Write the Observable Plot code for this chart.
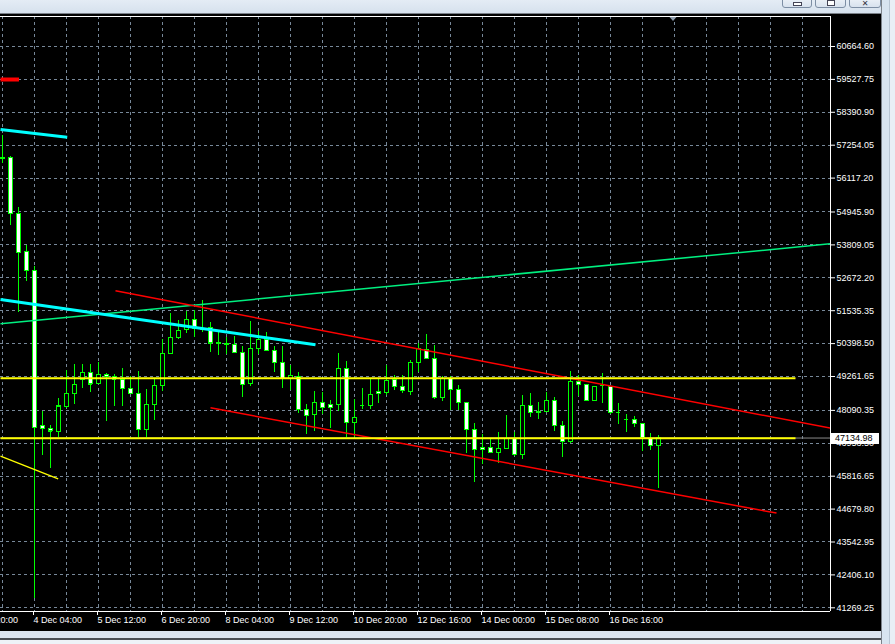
<!DOCTYPE html>
<html><head><meta charset="utf-8">
<script src="https://cdn.jsdelivr.net/npm/d3@7"></script>
<script src="https://cdn.jsdelivr.net/npm/@observablehq/plot@0.6"></script>
<style>
html,body{margin:0;padding:0;background:#000;overflow:hidden;}
#wrap{position:relative;width:895px;height:644px;overflow:hidden;background:#000;}
#chart{position:absolute;left:0;top:0;}
.c{position:absolute;box-sizing:border-box;}
.btn{position:absolute;top:-7px;height:15px;border:1px solid #7d8ea4;border-radius:3px;background:linear-gradient(#f7f9fc,#d8e2ee);box-sizing:border-box;}
</style></head><body>
<div id="wrap"><div id="chart"></div>
<div class="c" style="left:0;top:0;width:895px;height:14px;background:linear-gradient(#e4ecf5,#d6e1ed);border-bottom:1px solid #7a8088;"></div>
<div class="btn" style="left:782px;width:30px;"><div class="c" style="left:10px;top:8px;width:9px;height:4px;border:1px solid #445;background:#fff;"></div></div>
<div class="btn" style="left:815px;width:31px;"><div class="c" style="left:11px;top:6px;width:8px;height:6px;border:1px solid #445;background:#fff;"></div></div>
<div class="btn" style="left:849px;width:32px;font:bold 8px 'DejaVu Sans';color:#334;text-align:center;line-height:20px;">✕</div>
<div class="c" style="left:881px;top:0;width:14px;height:644px;background:linear-gradient(90deg,#7c828a 0,#7c828a 1px,#d8e4f0 1px,#d8e4f0 8px,#b9c6d4 8px,#b9c6d4 9px,#e9eff6 9px);"></div>
<div class="c" style="left:0;top:631px;width:881px;height:13px;background:linear-gradient(#dbe5f0 0,#dbe5f0 7px,#4a4f55 7px,#4a4f55 9px,#eef2f7 9px);"></div>
</div>
<script>
// H4 candles, bar index 0..82 (prices)
const openP = [56812,56819,54884,53571,52914,47558,47455,47337,48201,48650,
49134,49390,48996,49320,49251,49148,48837,48664,47420,48284,
48940,50046,50599,50875,51221,50910,50944,50426,50392,50357,
50081,49010,50219,50530,50150,49735,49182,49251,48111,47938,
48353,48284,48284,49528,47662,48249,48249,48733,48698,49148,
48906,48733,49735,50184,49873,48526,49182,48802,48353,47420,
46798,46798,46625,46763,47109,46556,48249,48042,48042,48422,
47558,47005,49079,48975,48422,48940,48906,48007,47766,47766,
47627,47109,46867];
const highP = [57589,56864,55091,53778,53063,48052,47558,48491,49469,49676,
49676,49676,49735,49355,49320,49528,49251,49434,48802,49182,
50530,51428,51197,51508,51542,51888,51117,50772,50599,50633,
50288,51152,50806,50772,50288,50288,49631,49390,48284,48733,
48698,48422,50046,49770,48457,48837,49148,49182,49631,49286,
49286,49804,50391,50703,50322,49251,49251,48941,48353,47627,
47247,47074,47316,47904,47316,48595,48664,48353,48698,48526,
47696,49434,49286,48975,48906,49355,48906,48318,47938,47869,
47627,47282,47213];
const lowP = [56632,54479,51483,52555,41591,46532,46093,47164,48146,48284,
48837,48719,48996,47717,48235,48235,48664,47164,47164,47741,
48743,50046,50530,50737,50599,50772,50081,49977,50011,50081,
48546,48906,50011,50150,49390,48837,48768,47994,47247,47351,
47938,47455,48042,47143,47143,48111,48111,48318,48595,48768,
48664,48595,49390,49839,48457,48387,48077,48077,46591,45609,
46211,46591,46245,46763,46487,46383,47835,47766,48042,47351,
46453,46936,48560,48422,48422,48318,47938,47593,47316,47489,
46660,46694,45381];
const closeP = [56794,54884,53536,52914,47489,47455,47372,48225,48664,48975,
49390,48996,49320,49251,49158,48837,48664,47420,48284,48940,
50046,50599,50841,51221,50910,50886,50412,50392,50357,50081,
48975,50219,50530,50150,49735,49182,49286,48111,47904,48353,
48180,48180,49528,47662,47835,48249,48630,48664,49113,48906,
48768,49735,50219,49873,48526,49182,48802,48353,47420,46729,
46729,46625,46763,47109,46556,48249,48007,48007,48422,47558,
47005,49079,48975,48422,48906,48940,48007,48007,47766,47627,
47143,46867,47134.98];
const bid = 47134.98;

// price scale labels
const yTicks = [60664.60,59527.75,58390.90,57254.05,56117.20,54945.90,53809.05,52672.20,51535.35,
50398.50,49261.65,48090.35,46953.50,45816.65,44679.80,43542.95,42406.10,41269.25];
// time labels (bar index of tick, label)
const xTickBars = [-4,4,12,20,28,36,44,52,60,68,76];
const xTickLabels = ["2 Dec 20:00","4 Dec 04:00","5 Dec 12:00","6 Dec 20:00","8 Dec 04:00","9 Dec 12:00",
"10 Dec 20:00","12 Dec 16:00","14 Dec 00:00","15 Dec 08:00","16 Dec 16:00"];

// drawn objects: [barIndex, price] endpoints
const cyanUpper = [[-0.25,57796],[8.09,57530]];
const cyanLower = [[-0.25,51922],[39.125,50357]];
const greenLine = [[-0.25,51083],[103.5,53847]];
const redUpper = [[14.125,52223],[103.5,47475]];
const redLower = [[26,48180],[96.75,44542]];
const yellowUpper = [[-0.25,49203],[99.125,49203]];
const yellowLower = [[-0.25,47125],[99.125,47125]];
const yellowThin = [[-0.25,46508],[6.96,45727]];
const redMark = [[-0.25,59524],[2.06,59524]];
const shiftBar = 83.875;

const xDomain = [-0.25, 103.5];
const yDomain = [41141.4, 61701.0];

const bars = openP.map((o, i) => ({i, open: o, high: highP[i], low: lowP[i], close: closeP[i]}));
const vGrid = d3.range(0, 101, 4);
const labelOf = new Map(xTickBars.map((b, i) => [b, xTickLabels[i]]));
const seg = (s) => [{x1: s[0][0], y1: s[0][1], x2: s[1][0], y2: s[1][1]}];
const lk = (s, stroke, w) => Plot.link(seg(s), {x1: "x1", y1: "y1", x2: "x2", y2: "y2", stroke, strokeWidth: w, clip: true});

const plot = Plot.plot({
  width: 895, height: 644,
  marginLeft: 0, marginRight: 65, marginTop: 16, marginBottom: 33,
  style: {background: "transparent", color: "#ffffff", fontFamily: "'Liberation Sans', Arial, sans-serif", fontSize: "9px"},
  x: {type: "linear", domain: xDomain},
  y: {type: "linear", domain: yDomain},
  marks: [
    Plot.ruleY(yTicks, {stroke: "#778899", strokeDasharray: "3,3", shapeRendering: "crispEdges"}),
    Plot.ruleX(vGrid, {stroke: "#778899", strokeDasharray: "3,3", shapeRendering: "crispEdges"}),
    Plot.ruleY([bid], {stroke: "#8a8a8a"}),
    Plot.ruleX(bars, {x: "i", y1: "low", y2: "high", stroke: "#00ff00", shapeRendering: "crispEdges"}),
    Plot.rect(bars, {x1: d => d.i - 0.25, x2: d => d.i + 0.25, y1: "open", y2: "close",
      fill: d => d.close < d.open ? "#ffffff" : "#000000", stroke: "#00ff00", shapeRendering: "crispEdges"}),
    Plot.ruleY(bars, {y: "close", x1: d => d.i - 0.25, x2: d => d.i + 0.25, stroke: "#00ff00", shapeRendering: "crispEdges"}),
    lk(greenLine, "#00f080", 1.5),
    lk(redUpper, "#ff0000", 1.5),
    lk(redLower, "#ff0000", 1.5),
    lk(cyanUpper, "#00ffff", 3),
    lk(cyanLower, "#00ffff", 3),
    lk(yellowUpper, "#ffff00", 2),
    lk(yellowLower, "#ffff00", 2),
    lk(yellowThin, "#ffff00", 1.3),
    lk(redMark, "#ff0000", 4),
    Plot.axisY(yTicks, {anchor: "right", tickSize: 4, tickPadding: 2, tickFormat: d => d.toFixed(2), label: null}),
    Plot.axisX(xTickBars, {anchor: "bottom", tickSize: 4, tickPadding: 1, tickFormat: d => labelOf.get(d), textAnchor: "start", dx: -1, label: null}),
    Plot.ruleX([xDomain[1]], {stroke: "#ffffff", shapeRendering: "crispEdges"}),
    Plot.ruleY([yDomain[0]], {stroke: "#ffffff", shapeRendering: "crispEdges"}),
    Plot.ruleY([yDomain[1]], {stroke: "#ffffff", shapeRendering: "crispEdges"})
  ]
});
document.getElementById("chart").appendChild(plot);

const ys = plot.scale("y"), xs = plot.scale("x");
const svg = d3.select(plot);
const yb = ys.apply(bid);
svg.append("rect").attr("x", 831).attr("y", Math.round(yb) - 5).attr("width", 48).attr("height", 11).attr("fill", "#ffffff");
svg.append("text").attr("x", 835).attr("y", yb).attr("dy", "0.35em").attr("fill", "#000000")
  .attr("text-anchor", "start").attr("font-size", 9)
  .attr("font-family", "'Liberation Sans', Arial, sans-serif").text(bid.toFixed(2));
const sx = xs.apply(shiftBar);
svg.append("path").attr("d", `M${sx - 3.5},17 L${sx + 3.5},17 L${sx},21 Z`).attr("fill", "#8c9aab");
</script>
</body></html>
